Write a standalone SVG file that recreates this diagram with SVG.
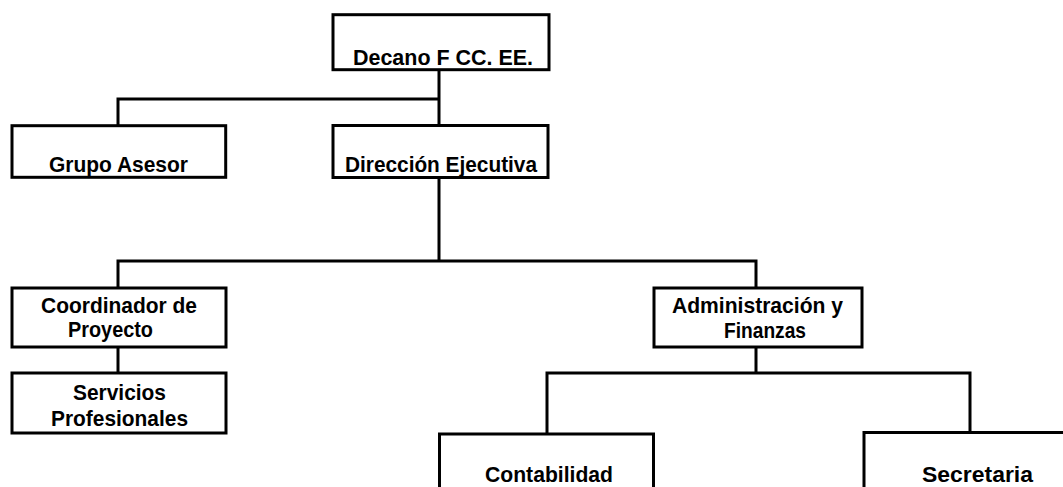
<svg xmlns="http://www.w3.org/2000/svg" width="1063" height="487" viewBox="0 0 1063 487">
<style>
.box{fill:#fff;stroke:#000;stroke-width:3}
.con{fill:none;stroke:#000;stroke-width:3;stroke-linecap:square}
.t{font-family:"Liberation Sans",Arial,sans-serif;font-weight:bold;font-size:22px;fill:#000}
</style>
<rect width="1063" height="487" fill="#fff"/>
<g id="connectors">
<path class="con" d="M439,70 V99 M118,99 H439 M118,99 V125 M439,99 V125"/>
<path class="con" d="M439,178 V261 M118,261 H756 M118,261 V287 M756,261 V287"/>
<path class="con" d="M118,347 V372"/>
<path class="con" d="M756,347 V373 M547,373 H970 M547,373 V433 M970,373 V431"/>
</g>
<g id="decano">
<rect class="box" x="333" y="14.7" width="216" height="55"/>
<text class="t" x="353" y="65" textLength="180" lengthAdjust="spacingAndGlyphs">Decano F CC. EE.</text>
</g>
<g id="grupo-asesor">
<rect class="box" x="12" y="125.7" width="213.7" height="51.6"/>
<text class="t" x="49" y="172" textLength="139" lengthAdjust="spacingAndGlyphs">Grupo Asesor</text>
</g>
<g id="direccion-ejecutiva">
<rect class="box" x="333" y="125.5" width="215" height="52"/>
<text class="t" x="345" y="172" textLength="192" lengthAdjust="spacingAndGlyphs">Dirección Ejecutiva</text>
</g>
<g id="coordinador">
<rect class="box" x="12" y="288" width="214" height="59"/>
<text class="t" x="41" y="313" textLength="156" lengthAdjust="spacingAndGlyphs">Coordinador de</text>
<text class="t" x="68" y="337" textLength="85" lengthAdjust="spacingAndGlyphs">Proyecto</text>
</g>
<g id="servicios">
<rect class="box" x="12" y="373" width="214" height="60"/>
<text class="t" x="73" y="400" textLength="93" lengthAdjust="spacingAndGlyphs">Servicios</text>
<text class="t" x="51" y="426" textLength="137" lengthAdjust="spacingAndGlyphs">Profesionales</text>
</g>
<g id="administracion">
<rect class="box" x="654" y="288" width="208" height="59"/>
<text class="t" x="672" y="313" textLength="171" lengthAdjust="spacingAndGlyphs">Administración y</text>
<text class="t" x="724" y="338" textLength="82" lengthAdjust="spacingAndGlyphs">Finanzas</text>
</g>
<g id="contabilidad">
<rect class="box" x="439.5" y="434" width="214" height="80"/>
<text class="t" x="485" y="482" textLength="128" lengthAdjust="spacingAndGlyphs">Contabilidad</text>
</g>
<g id="secretaria">
<rect class="box" x="864" y="432.5" width="230" height="80"/>
<text class="t" x="922" y="482" textLength="111" lengthAdjust="spacingAndGlyphs">Secretaria</text>
</g>
</svg>
